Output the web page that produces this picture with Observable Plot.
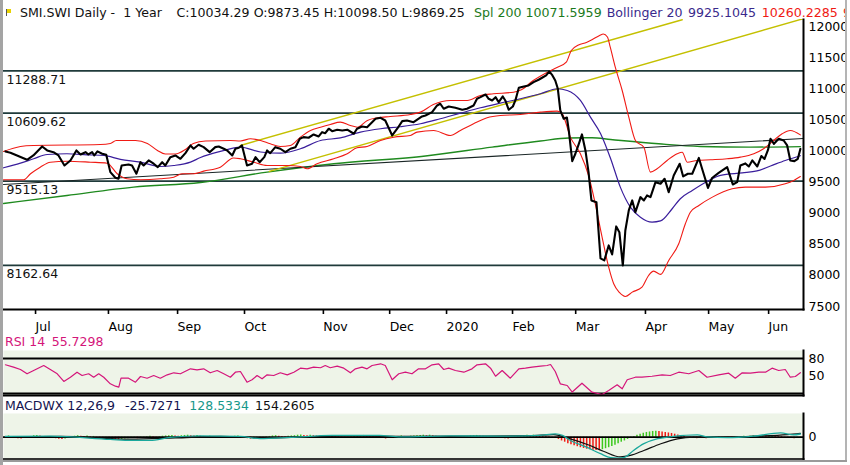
<!DOCTYPE html>
<html><head><meta charset="utf-8">
<script src="https://cdn.jsdelivr.net/npm/d3@7"></script>
<script src="https://cdn.jsdelivr.net/npm/@observablehq/plot@0.6"></script>
<style>
body{margin:0;background:#fff;}
#wrap{position:relative;width:850px;height:465px;overflow:hidden;background:#fff;font-family:"DejaVu Sans",sans-serif;}
.lab{position:absolute;white-space:pre;line-height:1;}
.abs{position:absolute;}
</style></head>
<body><div id="wrap"></div>
<script>
// ---------- data (x = trading-day index, 0 = first bar) ----------
const monthDays = [9.6, 32.8, 54.8, 76.1, 101.2, 122.3, 140.4, 161.4, 181.5, 203.7, 223.8, 242.9];
const monthNames = ["Jul","Aug","Sep","Oct","Nov","Dec","2020","Feb","Mar","Apr","May","Jun"];
const priceTicks = [7500, 8000, 8500, 9000, 9500, 10000, 10500, 11000, 11500, 12000];
const levels = [11288.71, 10609.62, 9515.13, 8162.64];

const closeDays = [0,1.6,3.7,6.9,8.9,11.7,13.3,15.3,16.9,18.8,20.7,22.6,23.9,25.5,26.4,27.6,28.3,29.3,30.8,32.1,33.4,35,36,37,39.2,40.3,41.7,43,44,45.6,47.2,48.5,49.9,50.9,52.5,54.1,55.7,57.3,58.9,59.9,61.5,63.1,65,66.8,67.9,69.5,70.6,72.2,73.2,74.3,75.3,76.9,78.5,79.6,80.9,82.4,83.3,84.3,85.9,87.5,89.1,90.7,92.3,93.7,94.9,96.5,98.1,99.7,100.8,101.8,102.9,104,105.6,107.2,108.8,110.9,111.9,113.5,115.1,116.7,117.8,119.4,120.9,123.1,124.7,126.3,127.8,129.9,132.6,133.7,135.8,137.4,138.4,139.5,141.1,143.2,145.4,146.9,149,150.1,151.2,152.8,153.8,154.9,156,157,158.3,159.1,160.2,161.5,162.3,163.4,165,166.5,168.1,169.7,170.8,172.1,173.1,174.1,175,175.8,176.6,177.7,178.7,179.3,180.4,181.4,182.5,183.5,184.6,185.6,186.5,188.1,189.4,190.6,192,193.1,194.4,195.4,196.5,197.3,198.4,199.5,200.5,202.1,203.2,204.2,205.3,206.9,208.5,209.8,211.1,212.7,214.6,215.7,217.2,218.6,220.7,221.9,223.6,224.9,227,229.7,231.5,232.9,233.9,235.5,236.6,237.7,239.3,240.6,241.6,242.7,243.5,244.6,246.1,247.7,248.8,249.8,251.1,252.2,253];
const closeVals = [9994,9973,9929,9860,9929,10074,10010,9982,9929,9768,9849,10010,9945,9982,9945,9982,9929,9994,9957,9940,9661,9571,9554,9768,9784,9768,9635,9821,9768,9849,9796,9741,9821,9768,9902,9929,9876,9966,10090,10037,10101,10063,9982,10063,10074,10037,10010,9929,10037,10053,10090,9768,9796,9902,9821,9902,10010,9966,10063,10037,9982,10037,10063,10198,10224,10214,10267,10235,10304,10288,10359,10320,10343,10331,10343,10278,10359,10396,10384,10465,10519,10535,10492,10251,10359,10481,10492,10465,10556,10572,10626,10733,10761,10680,10717,10696,10664,10680,10733,10841,10867,10910,10841,10814,10867,10786,10878,10814,10664,10717,10814,11018,11039,11055,11108,11147,11179,11216,11280,11216,11135,11007,10653,10519,10540,10331,9838,9957,10117,10267,10010,9656,9206,9178,8273,8241,8482,8337,8788,8696,8160,8723,9045,9206,9017,9259,9206,9286,9259,9500,9474,9554,9339,9608,9796,9592,9635,9635,9889,9688,9407,9567,9648,9741,9463,9500,9768,9801,9752,9849,9752,9921,9873,10018,10198,10117,10198,10170,10090,9849,9838,9876,10034];

const midDays = [-0.6,4.8,9,13.3,19.6,26,31.3,36.6,43,49.3,53.6,58.9,62.1,68.4,74.8,81.2,87.5,93.9,100.3,106.6,113,119.4,125.7,132.1,138.4,144.8,151.2,157.5,163.9,170.3,175.6,178.8,183,186.2,189.4,192.6,195.7,198.9,202.1,205.8,208.5,212.2,214.8,218.6,223.9,227.6,234.5,239.2,243.5,248.2,253];
const midVals = [9731,9805,9876,9945,9957,9940,9929,9865,9821,9752,9768,9821,9897,9994,10063,9985,9966,10037,10170,10211,10304,10359,10391,10439,10519,10609,10696,10770,10841,10921,11002,10974,10814,10545,10283,9881,9420,9098,8937,8857,8876,9072,9233,9366,9527,9608,9648,9680,9760,9849,9925];

const upDays = [-0.6,4.8,8.9,30.2,33.4,35.3,41.4,45.2,48.4,50.9,54.1,57.3,59.8,63.7,71.6,74.8,78,81.2,84.3,87.5,90.7,93.9,97.1,100.3,103.4,106.6,109.8,112,115.2,118.4,122.5,128.9,132.1,136.2,141.6,147,151.2,155.3,161.7,164.2,168,172.5,175.7,178.5,180.1,182.4,184.9,186.8,189.1,190.3,191.6,192.5,194.1,196.3,198.4,200.5,203.2,205.3,207.4,210.6,213.8,215.4,217,220.1,224.4,229.7,233.9,238.2,241.3,244.5,247.2,249.8,253];
const upVals = [9994,10074,10090,10106,10122,10170,10170,10122,10010,9953,9953,10026,10122,10162,10170,10162,10198,10170,10117,10074,10090,10224,10331,10384,10428,10465,10412,10384,10492,10535,10556,10588,10626,10749,10814,10814,10894,10921,10947,10986,11135,11269,11349,11430,11618,11706,11746,11794,11859,11883,11835,11671,11349,10974,10545,10170,10060,9661,9715,9849,9957,9982,9821,9849,9860,9876,9902,9957,10037,10170,10278,10331,10260];

const lowDays = [-0.6,5.8,8,11.1,14.3,19.6,27.1,32.4,35.6,38.7,43,49.3,53.6,56.2,59.9,63.1,68.4,72.6,74.8,79,83.3,89.7,93.9,96,99.2,104.5,108.8,111.9,115.1,119.4,123.6,128.9,131,136.3,141.6,144.8,149,153.3,157.5,163.9,170.3,175.6,177.2,179.8,183,185.6,187.5,189.9,192,193.6,195.4,197.3,199.5,202.6,204.7,206.3,208.5,211.1,214.3,216.4,218,220.7,225,231.3,235.5,241.9,248.2,250.9,253];
const lowVals = [9538,9538,9635,9741,9821,9837,9821,9805,9635,9554,9538,9554,9580,9635,9635,9677,9741,9889,9876,9821,9768,9768,9752,9715,9796,9876,9957,10053,10074,10170,10223,10251,10304,10331,10251,10331,10439,10535,10572,10588,10626,10642,10600,10224,9957,9607,9206,8615,8133,7866,7726,7662,7731,7811,7999,8069,8016,8241,8509,8831,9017,9125,9259,9394,9420,9420,9474,9528,9590];

const splDays = [-0.6,19.6,40.8,62.1,83.3,104.5,133.7,154.9,170.3,179.3,186.7,192.6,207.9,221.2,237.1,253];
const splVals = [9157,9286,9420,9495,9661,9796,9921,10063,10162,10211,10214,10186,10117,10074,10063,10072];

const trendDays = [-0.6, 254];
const trendVals = [9463, 10202];
const yelUpDays = [74.8, 215.4];
const yelUpVals = [10090, 12111];
const yelLowDays = [84, 254];
const yelLowVals = [9672, 12130];

const rsiDays = [0,2.6,4.8,6.9,9,12.2,14.3,16.5,18.6,20.7,22.8,24.4,26.5,28.1,29.7,31.3,33.4,35,36.1,36.8,39.2,41.4,43,45.1,47.2,49.3,51.5,53.6,55.7,58.9,61,63.1,65.2,67.4,69.5,71.6,73.2,74.8,76.9,78.5,80.1,81.7,83.3,85.4,87.5,89.7,91.8,93.9,96,98.1,100.3,101.8,103.4,105.6,107.7,109.8,111.4,113.5,115.1,116.7,119.4,120.9,123.1,125.2,127.3,129.4,131.5,133.7,135.8,137.9,139.5,141.1,143.2,145.9,148.5,150.1,152.8,154.4,156,158.1,160.7,163.4,165.5,167.6,170.3,172.4,173.5,175,176.6,178.8,180.4,183.5,186.7,189.9,192,194.7,196.3,197.9,200.5,202.6,205.8,209,211.6,214.3,217.5,220.7,223.3,227,230.2,232.3,234.5,237.1,239.8,241.9,244,246.1,248.2,249.8,251.4,253];
const rsiVals = [69.3,65.2,61.2,53.9,59.5,68.1,61.2,53.9,40.7,48,56.6,50.9,53.9,48,53.9,48,36.7,32.6,30.9,46.3,46.3,39.5,49.2,46.3,50.9,46.3,52.1,55.6,53.9,62.4,60.7,62.4,55.6,59.5,53.9,48,56.6,57.8,39.5,43.6,50.9,45.3,52.1,50.9,55.6,52.1,56.6,63.5,62.4,65.2,64.2,68.1,64.2,66.9,63.5,55.6,62.4,65.2,62.4,68.1,71,68.1,43.6,53.9,56.6,53.9,62.4,62.4,69.3,71,61.2,63.5,59.5,56.6,62.4,69.3,71,63.5,49.7,59.5,46.3,62.4,63.5,65.2,66.9,68.1,69.8,57.8,36.7,33.8,22.6,37.7,22.3,18.4,25.2,35,28.1,43.6,48,48,49.7,52.1,50.9,56.6,53.9,59.5,48,52.1,54.9,46.3,55.6,54.9,56.6,56.6,63.5,59.5,61.2,48,49.2,55.7];

const macdDays = [0,14.3,33.4,40,46,52.5,62,74.8,81,90.7,104,119,125.7,141.6,157.5,170,175,177.3,179.8,185,189.4,192.6,195.1,197,199.9,203.2,207.6,212.6,220.2,223.4,229.8,238.1,246.7,250.8,253];
const macdVals = [30,40,-90,-130,-130,-10,50,30,-60,-10,70,70,10,55,40,70,130,70,-130,-400,-660,-820,-840,-810,-530,-260,-60,30,90,10,-20,40,170,95,128.5];
const sigDays = [0,17.5,39.8,54,68.4,82.7,93.9,108,125.7,144.8,167,174.4,179.8,185.2,190.3,195.7,198.9,203.2,208.6,213.9,219,227.6,238.1,248.9,253];
const sigVals = [20,30,-80,-30,30,-30,0,55,35,45,60,100,-65,-290,-560,-790,-730,-530,-260,-65,0,0,40,100,154.3];
// histogram, one value per trading day (day 0 .. 253)
const histVals = [
 30,50,20,-30,-60,-70,-40,-20,30,60,
 70,50,30,-20,-40,-30,-60,-80,-90,-70,-30,
 20,40,60,40,30,50,20,30,-10,-20,-30,-20,
 -50,-80,-100,-110,-90,-70,-60,-50,
 -40,-60,-20,10,20,40,20,10,20,40,50,60,70,50,
 40,60,70,80,60,50,70,40,30,20,40,20,-10,-20,-40,-20,10,20,40,50,30,
 -30,-60,-80,-70,-50,-40,-20,20,30,50,60,40,30,20,40,50,60,
 80,90,70,60,80,60,50,40,60,70,50,40,30,20,-10,-20,10,20,30,50,60,70,50,40,30,20,-20,-50,-70,-40,
 -30,10,30,50,30,20,40,50,60,70,80,60,80,60,40,20,-10,-20,
 -40,-50,-30,-20,10,20,30,50,60,70,50,40,30,20,-10,-20,-40,-50,-60,-70,-40,-20,
 20,40,60,80,60,80,60,50,40,30,20,-20,-50,-90,
 -150,-200,-260,-300,-340,-380,-420,-450,-480,-500,-520,-530,-540,
 -500,-460,-420,-370,-320,-260,-200,-150,-90,-30,30,80,120,160,190,210,230,240,
 230,210,190,170,150,120,90,60,30,0,-30,-50,-60,
 -40,-30,-60,-40,-20,10,20,-10,-20,-40,-50,-30,10,20,40,20,40,50,30,50,60,40,60,70,50,40,30,-10,-30,-50,-60,-40,-26
];

// ---------- build tables ----------
const pairs = (ds, vs) => ds.map((d, i) => ({d, v: vs[i]}));
const closeData = pairs(closeDays, closeVals);
const midData = pairs(midDays, midVals);
const upData = pairs(upDays, upVals);
const lowData = pairs(lowDays, lowVals);
const splData = pairs(splDays, splVals);
const rsiData = pairs(rsiDays, rsiVals);
const macdData = pairs(macdDays, macdVals);
const sigData = pairs(sigDays, sigVals);
const histData = histVals.map((v, i) => ({d: i, v, up: i === 0 ? v >= 0 : v > histVals[i - 1]}));
const monthLabel = new Map(monthDays.map((d, i) => [d, monthNames[i]]));

const xDomain = [-0.6, 254];
const FONT = "DejaVu Sans, sans-serif";
const baseStyle = {background: "transparent", fontFamily: FONT, fontSize: "12.5px", color: "#000", overflow: "visible"};
const wrap = document.getElementById("wrap");

function place(node, top) {
  node.style.position = "absolute";
  node.style.left = "0px";
  node.style.top = top + "px";
  wrap.appendChild(node);
}
function label(parts, x, baseline, size) {
  for (const [text, color, dx] of parts) {
    const s = document.createElement("div");
    s.className = "lab";
    s.textContent = text;
    s.style.left = (x + dx) + "px";
    s.style.top = (baseline - 0.845 * size) + "px";
    s.style.fontSize = size + "px";
    s.style.color = color;
    wrap.appendChild(s);
  }
}

// ---------- main price panel ----------
const main = Plot.plot({
  width: 850, height: 340,
  marginLeft: 3, marginRight: 47, marginTop: 19, marginBottom: 31,
  x: {domain: xDomain},
  y: {domain: [7500, 12000], range: [306, 26.2]},
  style: baseStyle,
  marks: [
    Plot.ruleY(levels, {stroke: "#1f3a3a", strokeWidth: 1.7}),
    Plot.text(levels, {y: d => d, text: d => d.toFixed(2), frameAnchor: "left", textAnchor: "start", dx: 3, dy: 9, fontSize: 12.5, fill: "#111"}),
    Plot.line(splData, {x: "d", y: "v", stroke: "#1f8a1f", strokeWidth: 1.4, curve: "monotone-x", clip: true}),
    Plot.line(pairs(trendDays, trendVals), {x: "d", y: "v", stroke: "#1a2626", strokeWidth: 1.1, clip: true}),
    Plot.line(pairs(yelUpDays, yelUpVals), {x: "d", y: "v", stroke: "#c4c000", strokeWidth: 1.4, clip: true}),
    Plot.line(pairs(yelLowDays, yelLowVals), {x: "d", y: "v", stroke: "#c4c000", strokeWidth: 1.4, clip: true}),
    Plot.line(upData, {x: "d", y: "v", stroke: "#f01a14", strokeWidth: 1.1, curve: "monotone-x", clip: true}),
    Plot.line(lowData, {x: "d", y: "v", stroke: "#f01a14", strokeWidth: 1.1, curve: "monotone-x", clip: true}),
    Plot.line(midData, {x: "d", y: "v", stroke: "#3a1e9c", strokeWidth: 1.2, curve: "monotone-x", clip: true}),
    Plot.line(closeData, {x: "d", y: "v", stroke: "#000", strokeWidth: 2.1, strokeLinejoin: "round", clip: true}),
    Plot.axisY({anchor: "right", ticks: priceTicks, tickSize: 0, tickPadding: 5, tickFormat: d3.format("d"), fontSize: 12.5, label: null}),
    Plot.axisX({ticks: monthDays, tickFormat: d => monthLabel.get(d), tickSize: 5, tickPadding: 8, textAnchor: "start", fontSize: 12.5, strokeWidth: 1.6, label: null}),
    Plot.frame({anchor: "bottom", strokeWidth: 2}),
    Plot.frame({anchor: "right", strokeWidth: 2})
  ]
});
place(main, 0);

// ---------- RSI panel ----------
const rsi = Plot.plot({
  width: 850, height: 58,
  marginLeft: 3, marginRight: 47, marginTop: 10, marginBottom: 3,
  x: {domain: xDomain, axis: null},
  y: {domain: [0, 100], range: [64.7, 6.4], axis: null},
  style: baseStyle,
  marks: [
    Plot.frame({fill: "#eef4e8", stroke: null}),
    Plot.ruleY([20, 80], {stroke: "#000", strokeWidth: 2}),
    Plot.line(rsiData, {x: "d", y: "v", stroke: "#d4157a", strokeWidth: 1.2}),
    Plot.axisY({anchor: "right", ticks: [50, 80], tickSize: 0, tickPadding: 5, fontSize: 12.5, label: null}),
    Plot.frame({anchor: "bottom", strokeWidth: 2}),
    Plot.frame({anchor: "right", strokeWidth: 2})
  ]
});
place(rsi, 340);

// ---------- MACD panel ----------
const macd = Plot.plot({
  width: 850, height: 64,
  marginLeft: 3, marginRight: 47, marginTop: 15, marginBottom: 3.5,
  x: {domain: xDomain, axis: null},
  y: {domain: [-1000, 1000], range: [63.7, 13.7], axis: null},
  style: baseStyle,
  marks: [
    Plot.frame({fill: "#eef4e8", stroke: null}),
    Plot.ruleX(histData, {x: "d", y1: 0, y2: "v", stroke: d => d.up ? "#3cc81e" : "#f01a14", strokeWidth: 1.5}),
    Plot.ruleY([0], {stroke: "#000", strokeWidth: 1.8}),
    Plot.line(sigData, {x: "d", y: "v", stroke: "#111", strokeWidth: 1.2, curve: "monotone-x"}),
    Plot.line(macdData, {x: "d", y: "v", stroke: "#1aa89c", strokeWidth: 1.3, curve: "monotone-x"}),
    Plot.axisY({anchor: "right", ticks: [0], tickSize: 0, tickPadding: 5, fontSize: 12.5, label: null}),
    Plot.frame({anchor: "bottom", stroke: "#333", strokeWidth: 2}),
    Plot.frame({anchor: "right", strokeWidth: 2})
  ]
});
place(macd, 398);

// ---------- header texts ----------
label([["SMI.SWI Daily -  1 Year", "#111", 0]], 20, 18, 12.6);
label([["C:10034.29 O:9873.45 H:10098.50 L:9869.25", "#111", 0]], 176.5, 18, 12.6);
label([["Spl 200 10071.5959", "#1c7a1c", 0]], 474, 18, 12.6);
label([["Bollinger 20", "#3a2a8c", 0], ["9925.1045", "#3a2a8c", 81.3]], 606.7, 18, 12.6);
label([["10260.2285", "#f01a14", 0], ["9590.0", "#f01a14", 81.3]], 761.7, 18, 12.6);
label([["RSI 14", "#d4157a", 0], ["55.7298", "#d4157a", 46.7]], 5, 347, 12.5);
label([["MACDWX 12,26,9", "#141450", 0], ["-25.7271", "#141450", 120], ["128.5334", "#17988a", 184.3], ["154.2605", "#111", 250]], 5, 411, 12.5);

// window chrome
const chrome = [
  {l: 0, t: 0, w: 3, h: 465, c: "#a4a4a4"},
  {l: 845, t: 0, w: 5, h: 465, c: "#fff"},
  {l: 845, t: 0, w: 2, h: 462, c: "#b4b4b4"},
  {l: 3, t: 460, w: 844, h: 2, c: "#9a9a9a"},
  {l: 6, t: 9, w: 1, h: 7, c: "#555"},
  {l: 7, t: 9, w: 4, h: 4, c: "#e8d200"}
];
for (const b of chrome) {
  const e = document.createElement("div");
  e.className = "abs";
  Object.assign(e.style, {left: b.l + "px", top: b.t + "px", width: b.w + "px", height: b.h + "px", background: b.c});
  wrap.appendChild(e);
}
</script></body></html>
